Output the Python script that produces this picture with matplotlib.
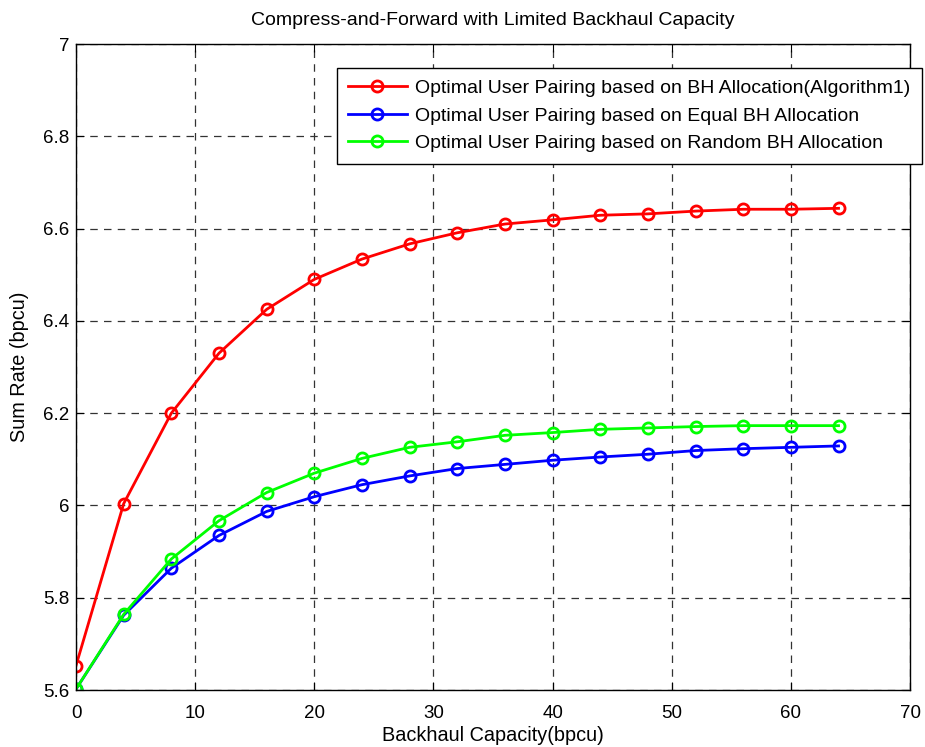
import matplotlib.pyplot as plt

plt.rcParams['font.family'] = ['Liberation Sans', 'DejaVu Sans']

# backhaul capacity (bpcu)
capacity = [0, 4, 8, 12, 16, 20, 24, 28, 32, 36, 40, 44, 48, 52, 56, 60, 64]

# sum rate for each scheme
rate_alg1 = [5.653, 6.004, 6.200, 6.330, 6.425, 6.490, 6.534, 6.567, 6.591, 6.610,
             6.619, 6.629, 6.632, 6.638, 6.642, 6.642, 6.644]
rate_equal = [5.602, 5.762, 5.864, 5.935, 5.987, 6.019, 6.045, 6.064, 6.080, 6.089,
              6.098, 6.105, 6.111, 6.119, 6.123, 6.126, 6.129]
rate_random = [5.602, 5.764, 5.884, 5.967, 6.028, 6.070, 6.102, 6.126, 6.138, 6.152,
               6.158, 6.165, 6.168, 6.171, 6.173, 6.173, 6.173]

labels = ['Optimal User Pairing based on BH Allocation(Algorithm1)',
          'Optimal User Pairing based on Equal BH Allocation',
          'Optimal User Pairing based on Random BH Allocation']

fig = plt.figure(figsize=(9.25, 7.47), dpi=100)
ax = fig.add_axes([0.0822, 0.0763, 0.9016, 0.8647])

style = dict(marker='o', markerfacecolor='none', markersize=8,
             markeredgewidth=2, linewidth=2)
ax.plot(capacity, rate_alg1, color='#ff0000', label=labels[0], **style)
ax.plot(capacity, rate_equal, color='#0000ff', label=labels[1], **style)
ax.plot(capacity, rate_random, color='#00ff00', label=labels[2], **style)

ax.set_xlim(0, 70)
ax.set_ylim(5.6, 7.0)
ax.set_xticks(range(0, 71, 10))
ax.set_yticks([5.6, 5.8, 6.0, 6.2, 6.4, 6.6, 6.8, 7.0])
ax.set_yticklabels(['5.6', '5.8', '6', '6.2', '6.4', '6.6', '6.8', '7'])
ax.tick_params(direction='in', top=True, right=True, labelsize=13.5, length=5.5)
ax.tick_params(axis='x', pad=11)
ax.tick_params(axis='y', pad=5)
ax.grid(True, linestyle=(0, (6, 5)), color='#333333', linewidth=0.9)
for s in ax.spines.values():
    s.set_linewidth(1.0)

ax.set_title('Compress-and-Forward with Limited Backhaul Capacity', fontsize=14, pad=14)
ax.set_xlabel('Backhaul Capacity(bpcu)', fontsize=14.3, labelpad=3)
ax.set_ylabel('Sum Rate (bpcu)', fontsize=14.3, labelpad=10)

leg = ax.legend(loc='upper right', bbox_to_anchor=(0.997, 0.909),
                bbox_transform=fig.transFigure, fontsize=14, fancybox=False,
                framealpha=1, edgecolor='black', handlelength=3.0,
                borderpad=0.6, labelspacing=0.5, handletextpad=0.45,
                borderaxespad=0)
leg.get_frame().set_linewidth(1.0)

fig.savefig('out.png', dpi=100)
